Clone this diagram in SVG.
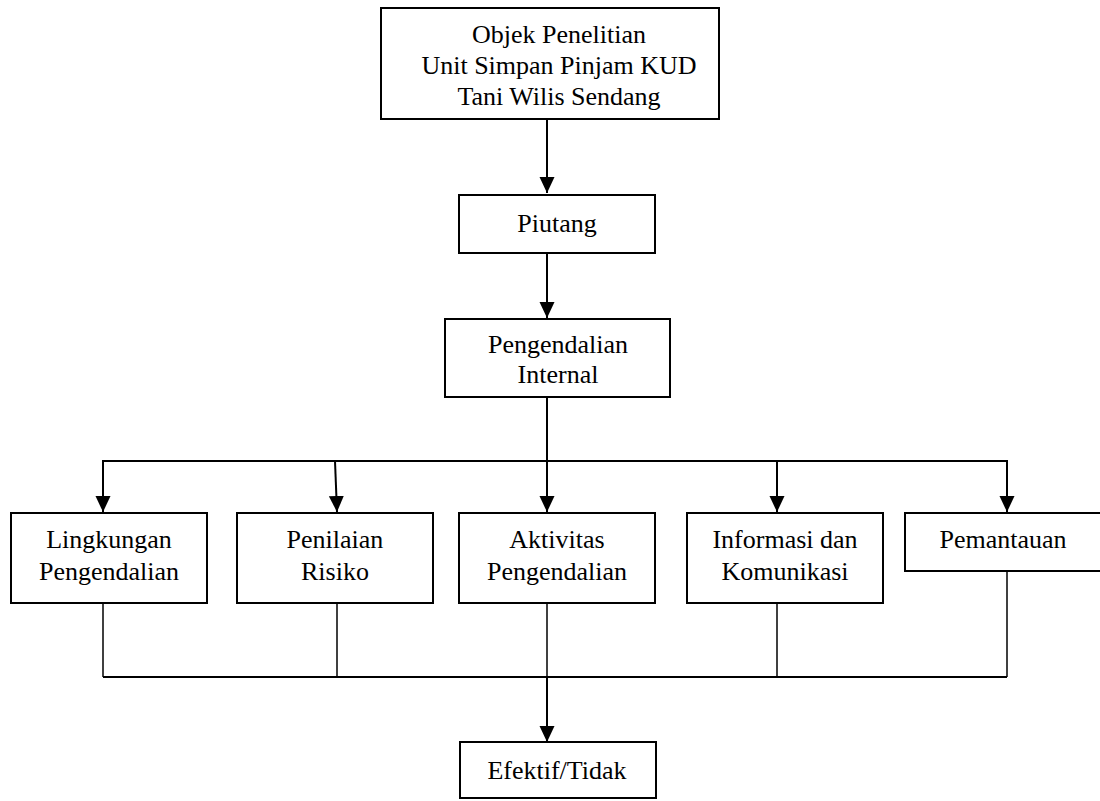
<svg xmlns="http://www.w3.org/2000/svg" width="1100" height="801" viewBox="0 0 1100 801">
<style>
.box{fill:#fff;stroke:#000;stroke-width:2}
.t{font-family:'Liberation Serif','Times New Roman','DejaVu Serif',serif;font-size:26px;fill:#000;text-anchor:middle}
.c{fill:none;stroke:#000;stroke-width:2}
.thin{fill:none;stroke:#000;stroke-width:1.5}
</style>
<defs>
<marker id="ah" markerUnits="userSpaceOnUse" markerWidth="16" markerHeight="16" refX="16" refY="7.5" orient="auto">
<path d="M0,0 L16,7.5 L0,15 z" fill="#000"/>
</marker>
</defs>
<rect width="1100" height="801" fill="#fff"/>
<g id="connectors">
<line class="c" x1="547" y1="119" x2="547" y2="193" marker-end="url(#ah)"/>
<line class="c" x1="547" y1="253" x2="547" y2="318" marker-end="url(#ah)"/>
<line class="c" x1="547" y1="397" x2="547" y2="461"/>
<polyline class="c" points="103,513 103,461 1007,461 1007,513"/>
<line class="c" x1="103" y1="461" x2="103" y2="512" marker-end="url(#ah)"/>
<line class="c" x1="335" y1="461" x2="337" y2="512" marker-end="url(#ah)"/>
<line class="c" x1="547" y1="461" x2="547" y2="512" marker-end="url(#ah)"/>
<line class="c" x1="777" y1="461" x2="777" y2="512" marker-end="url(#ah)"/>
<line class="c" x1="1007" y1="461" x2="1007" y2="512" marker-end="url(#ah)"/>
<line class="thin" x1="103" y1="603" x2="103" y2="677"/>
<line class="thin" x1="337" y1="603" x2="337" y2="677"/>
<line class="thin" x1="547" y1="603" x2="547" y2="677"/>
<line class="thin" x1="777" y1="603" x2="777" y2="677"/>
<line class="thin" x1="1007" y1="571" x2="1007" y2="677"/>
<line class="c" x1="103" y1="677" x2="1007" y2="677"/>
<line class="c" x1="547" y1="677" x2="547" y2="742" marker-end="url(#ah)"/>
</g>
<g id="objek">
<rect class="box" x="381" y="8" width="338" height="111"/>
<text class="t" x="559" y="43" font-family="Liberation Serif, serif">Objek Penelitian</text>
<text class="t" x="559" y="74" font-family="Liberation Serif, serif">Unit Simpan Pinjam KUD</text>
<text class="t" x="559" y="105" font-family="Liberation Serif, serif">Tani Wilis Sendang</text>
</g>
<g id="piutang">
<rect class="box" x="459" y="195" width="196" height="58"/>
<text class="t" x="557" y="232">Piutang</text>
</g>
<g id="pengendalian">
<rect class="box" x="445" y="319" width="225" height="78"/>
<text class="t" x="558" y="353">Pengendalian</text>
<text class="t" x="558" y="383">Internal</text>
</g>
<g id="lingkungan">
<rect class="box" x="11" y="513" width="196" height="90"/>
<text class="t" x="109" y="548">Lingkungan</text>
<text class="t" x="109" y="580">Pengendalian</text>
</g>
<g id="penilaian">
<rect class="box" x="237" y="513" width="196" height="90"/>
<text class="t" x="335" y="548">Penilaian</text>
<text class="t" x="335" y="580">Risiko</text>
</g>
<g id="aktivitas">
<rect class="box" x="459" y="513" width="196" height="90"/>
<text class="t" x="557" y="548">Aktivitas</text>
<text class="t" x="557" y="580">Pengendalian</text>
</g>
<g id="informasi">
<rect class="box" x="687" y="513" width="196" height="90"/>
<text class="t" x="785" y="548">Informasi dan</text>
<text class="t" x="785" y="580">Komunikasi</text>
</g>
<g id="pemantauan">
<rect class="box" x="905" y="513" width="198" height="58"/>
<text class="t" x="1003" y="548">Pemantauan</text>
</g>
<g id="efektif">
<rect class="box" x="460" y="742" width="196" height="56"/>
<text class="t" x="557" y="779">Efektif/Tidak</text>
</g>
</svg>
